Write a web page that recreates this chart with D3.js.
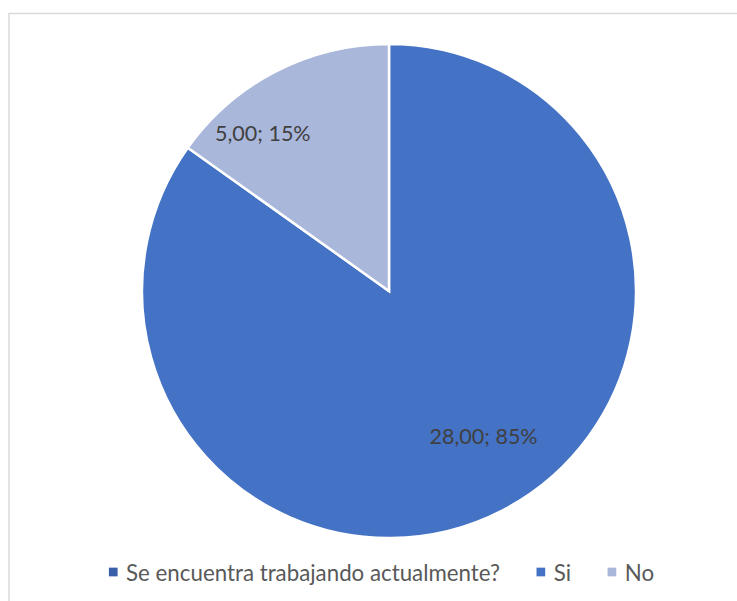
<!DOCTYPE html>
<html>
<head>
<meta charset="utf-8">
<script src="https://cdn.jsdelivr.net/npm/d3@7/dist/d3.min.js"></script>
<style>
  html, body { margin: 0; padding: 0; background: #ffffff; }
  svg { display: block; }
  text { font-family: Lato, "Open Sans", sans-serif; }
</style>
</head>
<body>
<svg id="chart" width="737" height="601"></svg>
<script>
// Survey answers: the header row appears as a legend entry without a value
const categories = ["Se encuentra trabajando actualmente?", "Si", "No"];
const counts = [0, 28, 5];
const sliceColors = ["#3a5fa9", "#4472c4", "#a9b7db"];

const W = 737, H = 601;
const cx = 389, cy = 291, radius = 247;

const svg = d3.select("#chart");

// chart frame (runs off the right and bottom edges)
svg.append("rect")
  .attr("x", 9).attr("y", 13.5)
  .attr("width", 800).attr("height", 700)
  .attr("fill", "#ffffff")
  .attr("stroke", "#d9d9d9")
  .attr("stroke-width", 1.5);

const color = d3.scaleOrdinal().domain(categories).range(sliceColors);

const data = categories.map((c, i) => ({ category: c, value: counts[i] }));
const total = d3.sum(counts);

const pie = d3.pie().sort(null).value(d => d.value).startAngle(0).endAngle(2 * Math.PI);
const arcs = pie(data);

const arc = d3.arc().innerRadius(0).outerRadius(radius);

const g = svg.append("g").attr("transform", `translate(${cx},${cy})`);

g.selectAll("path.slice")
  .data(arcs.filter(a => a.value > 0))
  .join("path")
  .attr("class", "slice")
  .attr("d", arc)
  .attr("fill", d => color(d.data.category))
  .attr("stroke", "#ffffff")
  .attr("stroke-width", 2.5)
  .attr("stroke-linejoin", "miter");

// data labels: "value; percent", placed inside each slice
const labelPlacement = {
  "Si": { r: 0.696, shift: -6.1 },
  "No": { r: 0.823, shift: -11.1 }
};
const fmtValue = v => d3.format(".2f")(v).replace(".", ",");
const fmtPct = v => d3.format(".0%")(v);

g.selectAll("text.dlabel")
  .data(arcs.filter(a => a.value > 0))
  .join("text")
  .attr("class", "dlabel")
  .attr("text-anchor", "middle")
  .attr("dominant-baseline", "central")
  .attr("font-size", 21.5)
  .attr("fill", "#404040")
  .attr("transform", d => {
    const p = labelPlacement[d.data.category];
    const a = (d.startAngle + d.endAngle) / 2 + p.shift * Math.PI / 180;
    const r = p.r * radius;
    return `translate(${r * Math.sin(a)},${-r * Math.cos(a) + 1})`;
  })
  .text(d => `${fmtValue(d.value)}; ${fmtPct(d.value / total)}`);

// legend along the bottom
const legend = svg.append("g");
const sw = 8.7, gapText = 8.5, gapItem = 36.5;
const legendY = 572;
const items = legend.selectAll("g.item")
  .data(categories)
  .join("g")
  .attr("class", "item");

items.append("rect")
  .attr("width", sw).attr("height", sw)
  .attr("y", legendY - sw / 2)
  .attr("fill", d => color(d));

items.append("text")
  .attr("y", legendY)
  .attr("dominant-baseline", "central")
  .attr("font-size", 22.3)
  .attr("fill", "#595959")
  .text(d => d);

let x = 0;
const offsets = [];
items.each(function () {
  const tw = d3.select(this).select("text").node().getComputedTextLength();
  offsets.push(x);
  d3.select(this).select("text").attr("x", sw + gapText);
  x += sw + gapText + tw + gapItem;
});
const legendWidth = x - gapItem;
const legendStart = 381.5 - legendWidth / 2;
items.attr("transform", (d, i) => `translate(${legendStart + offsets[i]},0)`);
</script>
</body>
</html>
